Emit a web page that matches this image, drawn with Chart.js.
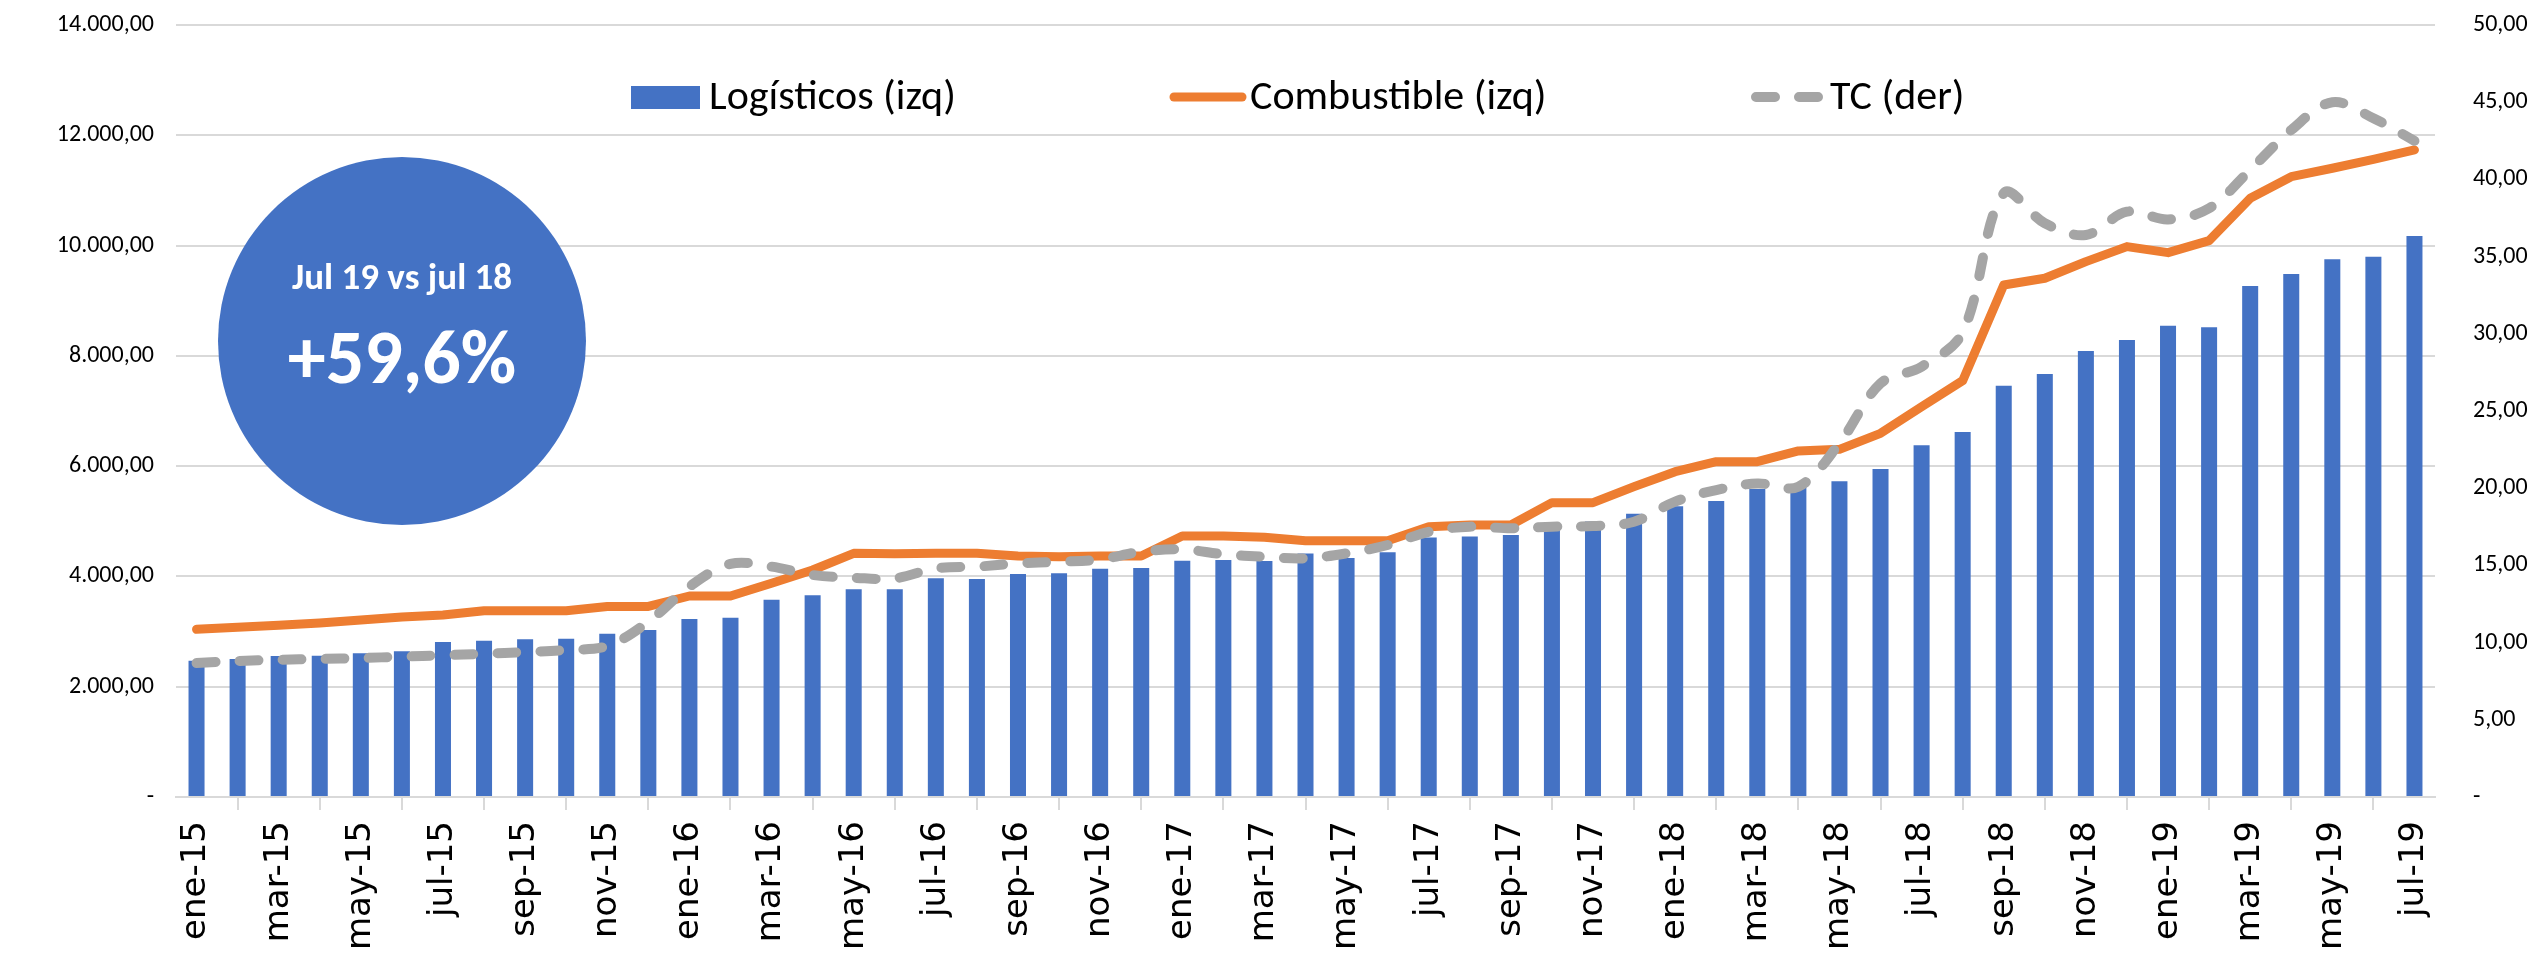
<!DOCTYPE html>
<html>
<head>
<meta charset="utf-8">
<script src="https://cdn.jsdelivr.net/npm/chart.js@4"></script>
<style>
  body { margin: 0; background: #fff; }
  #wrap { width: 2544px; height: 953px; }
</style>
</head>
<body>
<div id="wrap"><canvas id="chart"></canvas></div>
<script>
const labels = [
  'ene-15','feb-15','mar-15','abr-15','may-15','jun-15','jul-15','ago-15','sep-15','oct-15','nov-15','dic-15',
  'ene-16','feb-16','mar-16','abr-16','may-16','jun-16','jul-16','ago-16','sep-16','oct-16','nov-16','dic-16',
  'ene-17','feb-17','mar-17','abr-17','may-17','jun-17','jul-17','ago-17','sep-17','oct-17','nov-17','dic-17',
  'ene-18','feb-18','mar-18','abr-18','may-18','jun-18','jul-18','ago-18','sep-18','oct-18','nov-18','dic-18',
  'ene-19','feb-19','mar-19','abr-19','may-19','jun-19','jul-19'
]

const logisticos = [
  2472, 2503, 2557, 2563, 2606, 2642, 2811, 2835, 2859, 2871,
  2962, 3029, 3228, 3252, 3579, 3660, 3766, 3766, 3966, 3954,
  4044, 4056, 4141, 4153, 4286, 4300, 4280, 4415, 4335, 4437,
  4706, 4722, 4750, 4882, 4994, 5135, 5272, 5368, 5586, 5658,
  5728, 5948, 6380, 6620, 7457, 7671, 8088, 8288, 8545, 8520,
  9265, 9485, 9754, 9799, 10174
]

const combustible = [
  3041, 3077, 3113, 3156, 3210, 3264, 3300, 3379, 3379, 3379,
  3455, 3455, 3645, 3645, 3875, 4117, 4419, 4413, 4419, 4419,
  4371, 4359, 4371, 4371, 4733, 4733, 4710, 4649, 4649, 4649,
  4902, 4933, 4933, 5338, 5338, 5628, 5900, 6081, 6081, 6275,
  6305, 6595, 7078, 7550, 9285, 9407, 9709, 9981, 9872, 10089,
  10858, 11250, 11402, 11565, 11734
]

const tc = [
  8.68, 8.81, 8.89, 8.94, 9.00, 9.09, 9.18, 9.28, 9.39, 9.52,
  9.78, 11.35, 13.62, 15.10, 14.92, 14.38, 14.20, 14.16, 14.81, 14.92,
  15.13, 15.24, 15.39, 15.89, 16.04, 15.72, 15.56, 15.46, 15.78, 16.32,
  17.18, 17.51, 17.40, 17.51, 17.55, 17.83, 19.13, 19.88, 20.31, 20.10,
  22.91, 26.79, 27.87, 30.10, 39.10, 37.16, 36.40, 37.91, 37.41, 38.13,
  40.61, 43.20, 45.00, 43.96, 42.50
]

const AZUL = '#4472C4'
const NARANJA = '#ED7D31'
const GRIS = '#A5A5A5'
const GRILLA = '#D9D9D9'
const FUENTE = 'Carlito, "Liberation Sans Narrow", "DejaVu Sans Condensed", sans-serif'

function fmt(v) {
  if (v === 0) return '-'
  return v.toLocaleString('de-DE', { minimumFractionDigits: 2, maximumFractionDigits: 2 })
}

// leyenda y circulo de la variacion interanual
const extras = {
  id: 'extras',
  afterDraw(chart) {
    const c = chart.ctx
    c.save()

    // circulo
    c.fillStyle = AZUL
    c.beginPath()
    c.arc(402, 341, 184, 0, Math.PI * 2)
    c.fill()
    c.fillStyle = '#fff'
    c.textAlign = 'center'
    c.textBaseline = 'middle'
    c.font = 'bold 37px ' + FUENTE
    c.fillText('Jul 19 vs jul 18', 402, 280)
    c.font = 'bold 76px ' + FUENTE
    c.fillText('+59,6%', 402, 364)

    // leyenda
    c.textAlign = 'left'
    c.font = '42px ' + FUENTE
    c.fillStyle = AZUL
    c.fillRect(631, 86, 69, 23)
    c.fillStyle = '#000'
    c.fillText('Logísticos (izq)', 709, 98)

    c.lineCap = 'round'
    c.strokeStyle = NARANJA
    c.lineWidth = 9
    c.beginPath()
    c.moveTo(1174, 97)
    c.lineTo(1242, 97)
    c.stroke()
    c.fillText('Combustible (izq)', 1250, 98)

    c.strokeStyle = GRIS
    c.lineWidth = 10
    c.setLineDash([19, 24])
    c.beginPath()
    c.moveTo(1756, 97)
    c.lineTo(1820, 97)
    c.stroke()
    c.setLineDash([])
    c.fillText('TC (der)', 1830, 98)

    c.restore()
  }
}

new Chart(document.getElementById('chart'), {
  type: 'bar',
  data: {
    labels: labels,
    datasets: [
      {
        type: 'line',
        label: 'TC (der)',
        data: tc,
        yAxisID: 'y1',
        borderColor: GRIS,
        borderWidth: 10,
        borderDash: [19, 24],
        borderCapStyle: 'round',
        borderJoinStyle: 'round',
        tension: 0.35,
        pointRadius: 0,
        order: 1,
      },
      {
        type: 'line',
        label: 'Combustible (izq)',
        data: combustible,
        yAxisID: 'y',
        borderColor: NARANJA,
        borderWidth: 9,
        borderCapStyle: 'round',
        borderJoinStyle: 'round',
        tension: 0,
        pointRadius: 0,
        order: 2,
      },
      {
        label: 'Logísticos (izq)',
        data: logisticos,
        yAxisID: 'y',
        backgroundColor: AZUL,
        barPercentage: 0.39,
        categoryPercentage: 1,
        order: 3,
      },
    ],
  },
  options: {
    responsive: true,
    maintainAspectRatio: false,
    animation: false,
    layout: { padding: { top: 25, left: 0, right: 0, bottom: 0 } },
    plugins: {
      legend: { display: false },
      tooltip: { enabled: false },
    },
    scales: {
      x: {
        offset: true,
        grid: {
          offset: true,
          drawOnChartArea: false,
          drawTicks: true,
          tickLength: 13,
          color: GRILLA,
          lineWidth: 2,
        },
        border: { color: GRILLA, width: 2 },
        ticks: {
          autoSkip: false,
          minRotation: 90,
          maxRotation: 90,
          padding: 11,
          color: '#000',
          font: { family: '"DejaVu Sans", Verdana, sans-serif', size: 34 },
          callback: function (val, i) {
            return i % 2 === 0 ? labels[i] : null
          },
        },
        afterFit: function (s) { s.height = 156 },
      },
      y: {
        position: 'left',
        min: 0,
        max: 14000,
        // la separacion de las etiquetas va en tickLength (transparente)
        grid: { color: GRILLA, lineWidth: 2, drawTicks: true, tickLength: 22, tickColor: 'rgba(0,0,0,0)' },
        border: { display: false },
        ticks: {
          stepSize: 2000,
          padding: 0,
          color: '#000',
          font: { family: FUENTE, size: 24 },
          callback: fmt,
        },
        afterFit: function (s) { s.width = 176 },
      },
      y1: {
        position: 'right',
        min: 0,
        max: 50,
        grid: { drawOnChartArea: false, drawTicks: true, tickLength: 38, color: 'rgba(0,0,0,0)', tickColor: 'rgba(0,0,0,0)' },
        border: { display: false },
        ticks: {
          stepSize: 5,
          padding: 0,
          color: '#000',
          font: { family: FUENTE, size: 24 },
          callback: fmt,
        },
        afterFit: function (s) { s.width = 109 },
      },
    },
  },
  plugins: [extras],
})
</script>
</body>
</html>
